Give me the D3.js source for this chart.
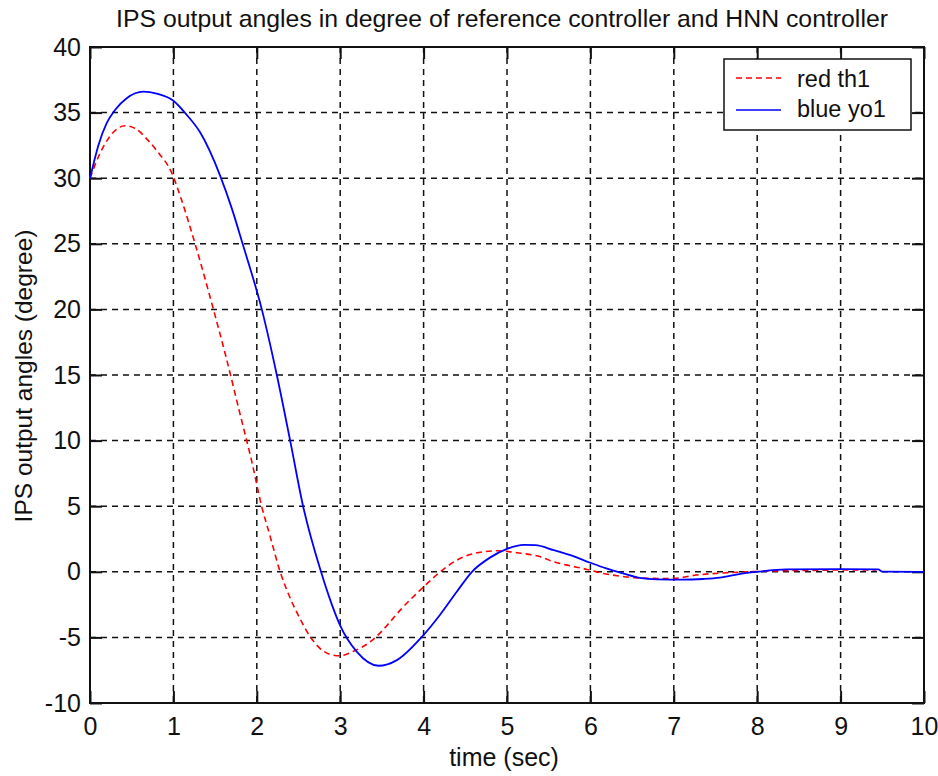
<!DOCTYPE html>
<html>
	<head>
		<meta charset="utf-8">
		<title>IPS output angles</title>
		<style>
			body {
				margin: 0;
				background: #fff;
			}
			svg text {
				font-family: "Liberation Sans", Arial, sans-serif;
				fill: #111;
			}
			.grid line {
				stroke: #111;
				stroke-width: 1.5;
				stroke-dasharray: 6,5;
			}
			.frame {
				fill: none;
				stroke: #111;
				stroke-width: 2;
			}
		</style>
		<script src="https://d3js.org/d3.v7.min.js"></script>
	</head>
	<body>
		<svg id=chart width=938 height=776></svg>
	</body>
	<script>
		// red th1 (reference controller), dashed
		const thTime = [0, 0.12, 0.24, 0.42, 0.54, 0.68, 0.8, 0.98, 1.1, 1.26, 1.48, 1.63, 1.8, 1.94, 2.06, 2.16, 2.28, 2.4, 2.52, 2.64, 2.76, 2.88, 3.0, 3.16, 3.3, 3.44, 3.58, 3.72, 3.98, 4.2, 4.4, 4.72, 4.88, 5.12, 5.4, 5.56, 5.72, 5.96, 6.12, 6.36, 6.56, 6.85, 7.0, 7.27, 7.55, 7.9, 8.3, 8.8, 9.1, 9.43];
		const thDeg  = [30, 31.9, 33.2, 34.0, 33.8, 33.0, 32.1, 30.4, 28.3, 25.0, 20.0, 16.4, 12.0, 8.4, 4.95, 2.7, 0, -2.0, -3.6, -4.95, -5.85, -6.3, -6.4, -6.05, -5.6, -4.9, -3.95, -2.92, -1.27, 0, 0.89, 1.53, 1.6, 1.45, 1.14, 0.76, 0.51, 0.18, -0.08, -0.33, -0.46, -0.51, -0.5, -0.25, -0.1, 0, 0.08, 0.12, 0.15, 0.15];

		// blue yo1 (HNN controller), solid
		const yoTime = [0, 0.05, 0.1, 0.2, 0.3, 0.44, 0.64, 0.8, 1.0, 1.15, 1.32, 1.56, 1.7, 1.83, 2.06, 2.24, 2.4, 2.555, 2.77, 2.9, 3.0, 3.2, 3.46, 3.68, 3.98, 4.2, 4.4, 4.58, 4.8, 5.0, 5.2, 5.34, 5.56, 5.76, 6.0, 6.19, 6.39, 6.59, 6.8, 7.1, 7.35, 7.55, 7.8, 8.0, 8.35, 9.0, 9.45, 9.5, 10];
		const yoDeg  = [30, 31.3, 32.5, 34.2, 35.2, 36.1, 36.6, 36.45, 35.9, 34.9, 33.5, 30.2, 27.7, 25.0, 20.0, 15.0, 10.0, 5.0, 0, -2.5, -4.1, -6.1, -7.16, -6.73, -4.95, -3.25, -1.5, 0, 1.1, 1.75, 2.05, 2.03, 1.65, 1.27, 0.69, 0.26, -0.12, -0.46, -0.58, -0.6, -0.55, -0.45, -0.15, 0, 0.18, 0.2, 0.18, 0.02, 0];

		const xTicks = [0, 1, 2, 3, 4, 5, 6, 7, 8, 9, 10];
		const yTicks = [-10, -5, 0, 5, 10, 15, 20, 25, 30, 35, 40];

		const chartTitle = 'IPS output angles in degree of reference controller and HNN controller';
		const xTitle = 'time (sec)';
		const yTitle = 'IPS output angles (degree)';
		const legendNames = ['red th1', 'blue yo1'];

		const svg = d3.select('#chart');
		const pLeft = 90, pRight = 924, pTop = 47, pBottom = 703;

		const x = d3.scaleLinear().domain([0, 10]).range([pLeft, pRight]);
		const y = d3.scaleLinear().domain([-10, 40]).range([pBottom, pTop]);

		// grid
		const grid = svg.append('g').attr('class', 'grid');
		grid.selectAll('.gx').data(xTicks.slice(1, -1)).enter().append('line')
			.attr('x1', d => x(d)).attr('x2', d => x(d))
			.attr('y1', pTop).attr('y2', pBottom);
		grid.selectAll('.gy').data(yTicks.slice(1, -1)).enter().append('line')
			.attr('x1', pLeft).attr('x2', pRight)
			.attr('y1', d => y(d)).attr('y2', d => y(d));

		// axes, ticks pointing inward on every side
		const fmt = d => String(d);
		const tickFont = g => g.selectAll('text').style('font-size', '25px').attr('fill', '#111');
		const tickLines = g => g.selectAll('line').attr('stroke', '#111').attr('stroke-width', 2);
		svg.append('g').attr('transform', `translate(0,${pBottom})`)
			.call(d3.axisBottom(x).tickValues(xTicks).tickFormat(fmt).tickSizeInner(-12).tickSizeOuter(0).tickPadding(14))
			.call(g => g.select('.domain').remove())
			.call(tickLines)
			.call(tickFont);
		svg.append('g').attr('transform', `translate(0,${pTop})`)
			.call(d3.axisTop(x).tickValues(xTicks).tickSizeInner(-12).tickSizeOuter(0).tickFormat(''))
			.call(g => g.select('.domain').remove())
			.call(tickLines);
		svg.append('g').attr('transform', `translate(${pLeft},0)`)
			.call(d3.axisLeft(y).tickValues(yTicks).tickFormat(fmt).tickSizeInner(-12).tickSizeOuter(0).tickPadding(9))
			.call(g => g.select('.domain').remove())
			.call(tickLines)
			.call(tickFont);
		svg.append('g').attr('transform', `translate(${pRight},0)`)
			.call(d3.axisRight(y).tickValues(yTicks).tickSizeInner(-12).tickSizeOuter(0).tickFormat(''))
			.call(g => g.select('.domain').remove())
			.call(tickLines);

		svg.append('rect').attr('class', 'frame')
			.attr('x', pLeft).attr('y', pTop)
			.attr('width', pRight - pLeft).attr('height', pBottom - pTop);

		// series
		const line = d3.line()
			.x(d => x(d[0]))
			.y(d => y(d[1]))
			.curve(d3.curveMonotoneX);

		svg.append('path')
			.attr('d', line(d3.zip(thTime, thDeg)))
			.attr('fill', 'none')
			.attr('stroke', '#ff0000')
			.attr('stroke-width', 1.6)
			.attr('stroke-dasharray', '6,4');

		svg.append('path')
			.attr('d', line(d3.zip(yoTime, yoDeg)))
			.attr('fill', 'none')
			.attr('stroke', '#0000ff')
			.attr('stroke-width', 1.8);

		// titles
		svg.append('text')
			.attr('x', 502).attr('y', 27)
			.attr('text-anchor', 'middle')
			.style('font-size', '24.8px')
			.text(chartTitle);
		svg.append('text')
			.attr('x', 504).attr('y', 766)
			.attr('text-anchor', 'middle')
			.style('font-size', '25px')
			.text(xTitle);
		svg.append('text')
			.attr('transform', 'translate(32,376) rotate(-90)')
			.attr('text-anchor', 'middle')
			.style('font-size', '24.5px')
			.text(yTitle);

		// legend
		const legend = svg.append('g');
		legend.append('rect')
			.attr('x', 724).attr('y', 59)
			.attr('width', 187).attr('height', 71)
			.attr('fill', '#fff')
			.attr('stroke', '#111')
			.attr('stroke-width', 1.5);
		const legendStyle = [
			{ color: '#ff0000', dash: '6,4', ly: 78, ty: 87 },
			{ color: '#0000ff', dash: null, ly: 110, ty: 117 },
		];
		legendNames.forEach((name, i) => {
			const s = legendStyle[i];
			legend.append('line')
				.attr('x1', 736).attr('x2', 781)
				.attr('y1', s.ly).attr('y2', s.ly)
				.attr('stroke', s.color)
				.attr('stroke-width', 1.6)
				.attr('stroke-dasharray', s.dash);
			legend.append('text')
				.attr('x', 797).attr('y', s.ty)
				.style('font-size', '23.5px')
				.text(name);
		});
	</script>
</html>
